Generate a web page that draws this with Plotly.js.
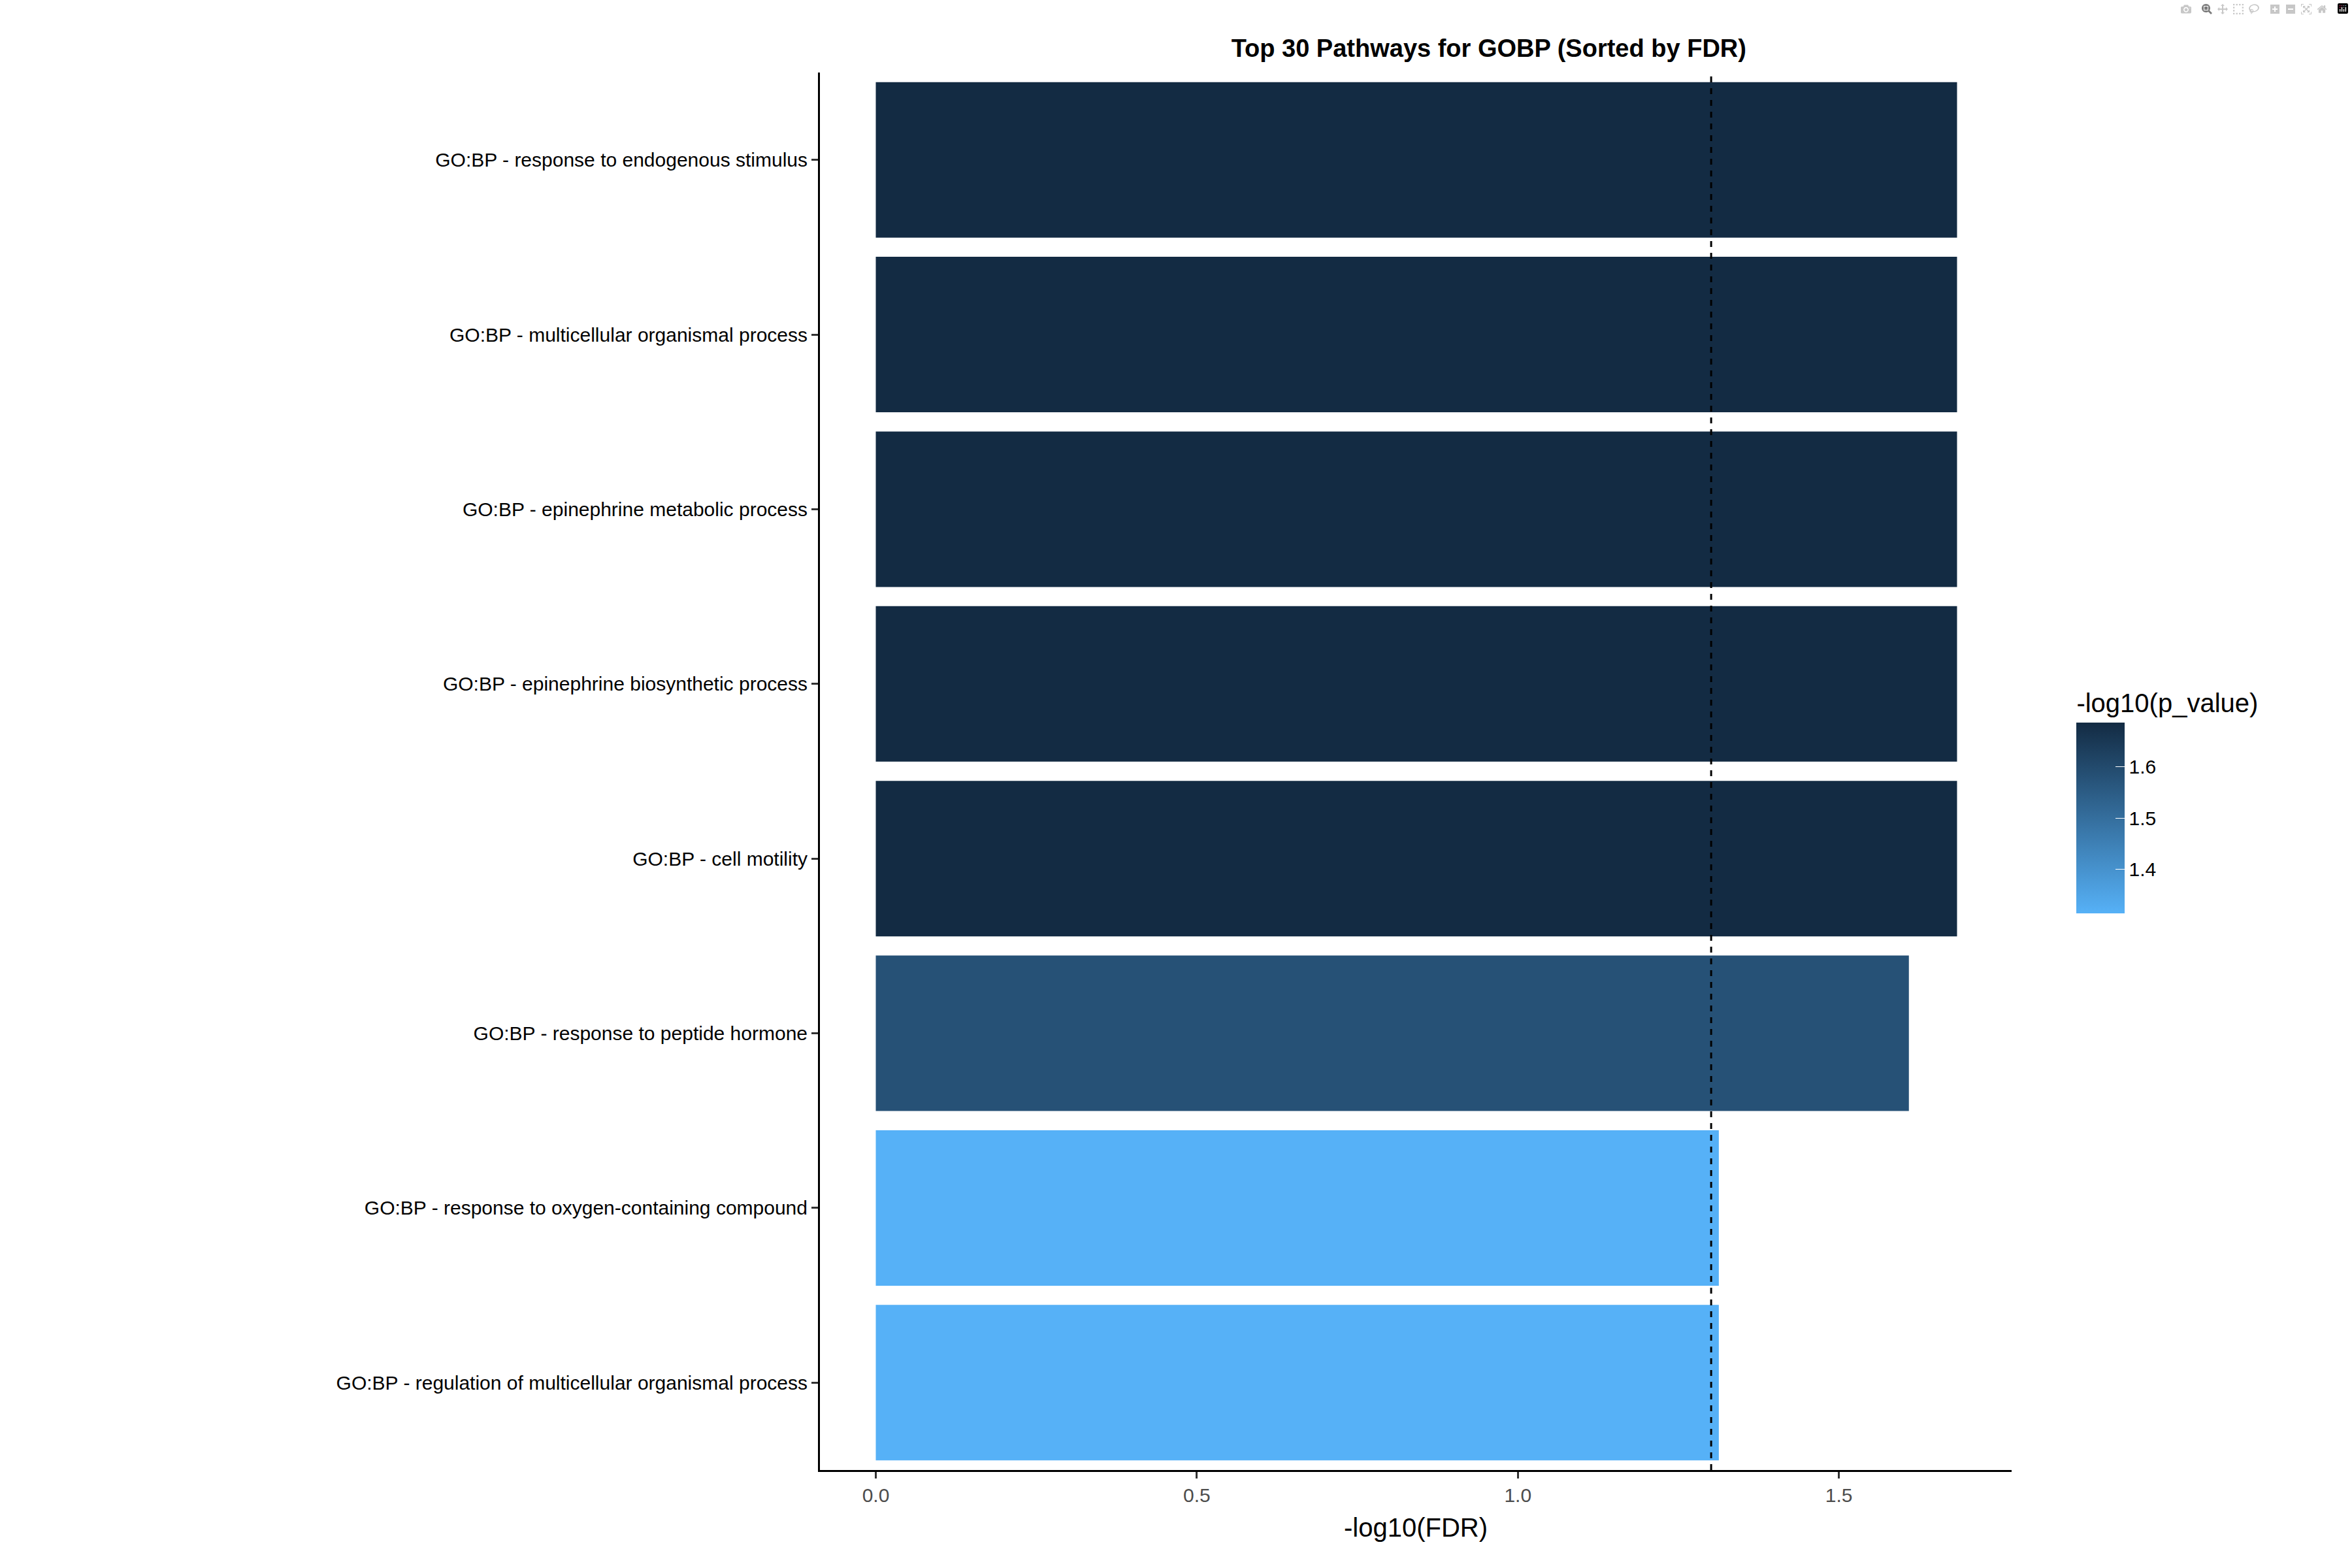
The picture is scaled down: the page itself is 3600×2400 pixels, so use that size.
<!DOCTYPE html>
<html>
<head>
<script src="https://cdn.plot.ly/plotly-3.0.1.min.js"></script>
<style>body{margin:0;background:#fff}</style>
</head>
<body>
<div id="myDiv" style="width:3600px;height:2400px"></div>
<script>
var pathways = [
    "GO:BP - response to endogenous stimulus",
    "GO:BP - multicellular organismal process",
    "GO:BP - epinephrine metabolic process",
    "GO:BP - epinephrine biosynthetic process",
    "GO:BP - cell motility",
    "GO:BP - response to peptide hormone",
    "GO:BP - response to oxygen-containing compound",
    "GO:BP - regulation of multicellular organismal process"
];
var negLogFdr = [1.684, 1.684, 1.684, 1.684, 1.684, 1.609, 1.313, 1.313];
var negLogP = [1.686, 1.686, 1.686, 1.686, 1.686, 1.58, 1.314, 1.314];
var fdrCutoff = -Math.log10(0.05);

var trace = {
    type: 'bar',
    orientation: 'h',
    x: negLogFdr,
    y: pathways,
    marker: {
        color: negLogP,
        cmin: 1.314,
        cmax: 1.686,
        colorscale: [[0, '#56B1F7'], [1, '#132B43']],
        showscale: true,
        colorbar: {
            title: {text: '-log10(p_value)', font: {size: 40, family: 'Liberation Sans, Arial', color: '#000'}, side: 'top'},
            tickvals: [1.4, 1.5, 1.6],
            tickfont: {size: 30, family: 'Liberation Sans, Arial', color: '#000'},
            thickness: 74,
            len: 0.169,
            x: 1.049,
            xanchor: 'left',
            y: 0.478,
            yanchor: 'middle',
            outlinewidth: 0,
            ticks: 'inside',
            ticklen: 14,
            tickcolor: '#fff'
        }
    },
    hoverinfo: 'x+y'
};

var layout = {
    width: 3600,
    height: 2400,
    margin: {l: 1255, r: 521, t: 111, b: 150, pad: 0},
    paper_bgcolor: '#fff',
    plot_bgcolor: '#fff',
    bargap: 0.11,
    font: {family: 'Liberation Sans, Arial', color: '#000'},
    title: {text: '<b>Top 30 Pathways for GOBP (Sorted by FDR)</b>', font: {size: 38, color: '#000'}, x: 0.633, xanchor: 'center', y: 0.975},
    xaxis: {
        range: [-0.087, 1.769],
        tickvals: [0, 0.5, 1.0, 1.5],
        ticktext: ['0.0', '0.5', '1.0', '1.5'],
        showgrid: false, zeroline: false,
        showline: true, linecolor: '#000', linewidth: 3,
        ticks: 'outside', ticklen: 10, tickwidth: 2.5, tickcolor: '#333',
        tickfont: {size: 30, color: '#4d4d4d'},
        title: {text: '-log10(FDR)', font: {size: 40, color: '#000'}, standoff: 20}
    },
    yaxis: {
        autorange: 'reversed',
        showgrid: false, zeroline: false,
        showline: true, linecolor: '#000', linewidth: 3,
        ticks: 'outside', ticklen: 10, tickwidth: 2.5, tickcolor: '#333',
        tickfont: {size: 30, color: '#000'}
    },
    shapes: [{
        type: 'line', xref: 'x', yref: 'paper',
        x0: fdrCutoff, x1: fdrCutoff, y0: 0, y1: 1,
        line: {color: '#000', width: 3, dash: 'dash'}
    }]
};

Plotly.newPlot('myDiv', [trace], layout);
</script>
</body>
</html>
